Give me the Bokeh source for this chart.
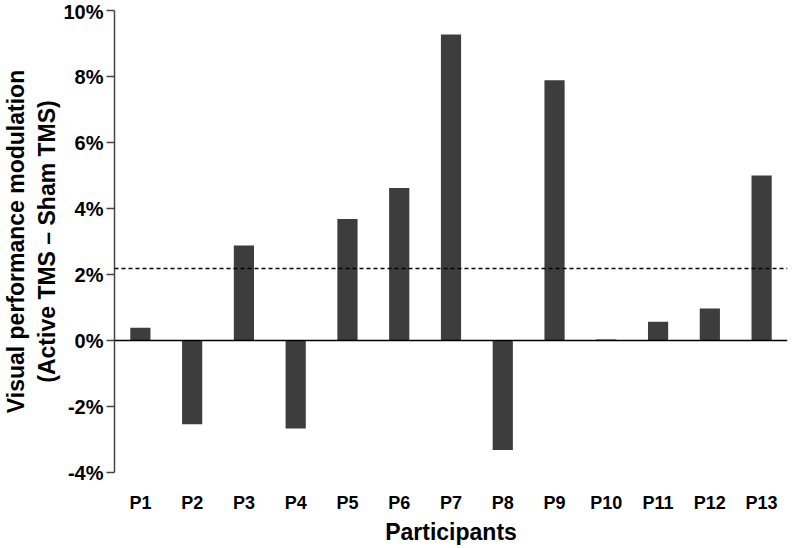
from bokeh.plotting import figure
from bokeh.models import Span, FixedTicker, PrintfTickFormatter, Range1d, FactorRange
from bokeh.embed import file_html
from bokeh.resources import INLINE

participants = ["P1", "P2", "P3", "P4", "P5", "P6", "P7", "P8", "P9", "P10", "P11", "P12", "P13"]
modulation = [0.39, -2.54, 2.88, -2.67, 3.68, 4.62, 9.27, -3.32, 7.89, 0.03, 0.57, 0.97, 5.0]
mean_modulation = 2.18
y_ticks = [-4, -2, 0, 2, 4, 6, 8, 10]

FONT = "Liberation Sans"

p = figure(
    x_range=FactorRange(*participants, range_padding=0),
    y_range=Range1d(-4, 10),
    width=783, height=540,
    frame_width=673, frame_height=462,
    min_border_left=106, min_border_right=3, min_border_top=10, min_border_bottom=0,
    output_backend="svg", toolbar_location=None,
)
p.outline_line_color = None
p.xgrid.grid_line_color = None
p.ygrid.grid_line_color = None
p.background_fill_color = "white"
p.border_fill_color = "white"

p.vbar(x=participants, top=modulation, bottom=0, width=0.39,
       fill_color="#3d3d3d", line_color=None)

p.add_layout(Span(location=0, dimension="width", line_color="black", line_width=1.5))
p.add_layout(Span(location=mean_modulation, dimension="width", line_color="black",
                  line_width=1.5, line_dash="4 3"))

# y axis
ya = p.yaxis[0]
ya.ticker = FixedTicker(ticks=y_ticks)
ya.formatter = PrintfTickFormatter(format="%d%%")
ya.axis_line_color = "#444444"
ya.axis_line_width = 1.5
ya.major_tick_line_color = "#444444"
ya.major_tick_line_width = 1.5
ya.major_tick_out = 8
ya.major_tick_in = 0
ya.minor_tick_line_color = None
ya.major_label_standoff = 3
ya.major_label_text_font = FONT
ya.major_label_text_font_style = "bold"
ya.major_label_text_font_size = "20px"
ya.major_label_text_color = "black"
ya.axis_label = "Visual performance modulation\n(Active TMS \u2013 Sham TMS)"
ya.axis_label_text_font = FONT
ya.axis_label_text_font_style = "bold"
ya.axis_label_text_font_size = "23px"
ya.axis_label_text_color = "black"
ya.axis_label_standoff = 0

# x axis
xa = p.xaxis[0]
xa.axis_line_color = None
xa.major_tick_line_color = None
xa.minor_tick_line_color = None
xa.major_label_standoff = 14
xa.major_label_text_font = FONT
xa.major_label_text_font_style = "bold"
xa.major_label_text_font_size = "18px"
xa.major_label_text_color = "black"
xa.axis_label = "Participants"
xa.axis_label_text_font = FONT
xa.axis_label_text_font_style = "bold"
xa.axis_label_text_font_size = "23px"
xa.axis_label_text_color = "black"
xa.axis_label_standoff = 3

open("out.html", "w").write(file_html(p, INLINE))
